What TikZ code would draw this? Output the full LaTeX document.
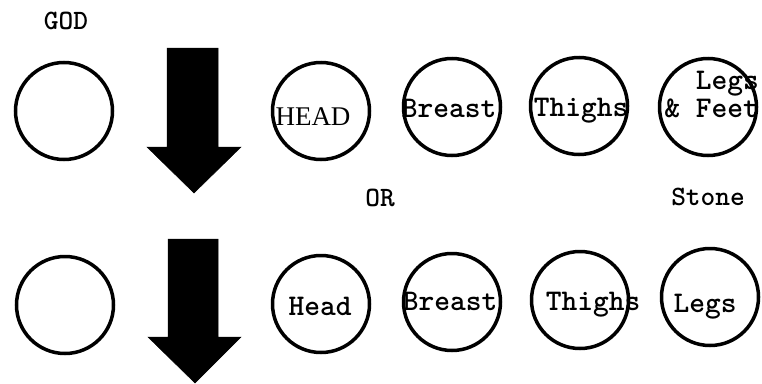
\documentclass[tikz,border=0pt]{standalone}
\usepackage{fontspec}
\newfontfamily\twfont{lmmonolt10-bold}[Extension=.otf]
\newfontfamily\headfont{Liberation Serif}
\usepackage{tikz}
\usetikzlibrary{positioning}

\begin{document}
\begin{tikzpicture}[x=1pt, y=-1pt]
          \tikzstyle{ring} = [line width=3.5pt, draw, circle, inner sep = 0pt, minimum size = 97pt]
          \tikzstyle{tw} = [inner sep = 0pt, anchor = base, font=\twfont\fontsize{30}{25}\selectfont]
          \tikzstyle{twsmall} = [inner sep = 0pt, anchor = base, font=\twfont\fontsize{28}{25}\selectfont]
          \tikzstyle{serif} = [inner sep = 0pt, anchor = base, font=\headfont\fontsize{27}{25}\selectfont]
          \tikzstyle{bigarrow} = [fill=black, draw=black, line width=0.5pt, line join=miter]
          \useasboundingbox (0,0) rectangle (762,383);

            % upper row
            \node[twsmall] (god) at (66, 29) {GOD};
            \node[ring] (g1) at (64, 111) {};
            \node[ring] (h1) at (321, 111) {};
            \node[ring] (b1) at (452, 107) {};
            \node[ring] (t1) at (579, 106) {};
            \node[ring] (l1) at (708, 107) {};

            \node[serif] (head1) at (313, 125) {HEAD};
            \node[tw] (breast1) at (449, 117) {Breast};
            \node[tw] (thighs1) at (581, 116) {Thighs};
            \node[tw, anchor = base east] (legs1) at (759, 89) {Legs};
            \node[tw, anchor = base east] (feet1) at (759, 117) {\& Feet};

            \draw[bigarrow] (167, 48) -- (218, 48) -- (218, 147) -- (241, 147)
              -- (194, 193) -- (147, 147) -- (167, 147) -- cycle;

            % middle labels
            \node[twsmall] (or) at (380, 206) {OR};
            \node[twsmall] (stone) at (708, 205) {Stone};

            % lower row
            \node[ring] (g2) at (65, 305) {};
            \node[ring] (h2) at (321, 304) {};
            \node[ring] (b2) at (452, 302) {};
            \node[ring] (t2) at (580, 300) {};
            \node[ring] (l2) at (710, 297) {};

            \node[tw] (head2) at (320, 315) {Head};
            \node[tw] (breast2) at (450, 310) {Breast};
            \node[tw] (thighs2) at (593, 310) {Thighs};
            \node[tw] (legs2) at (705, 312) {Legs};

            \draw[bigarrow] (168, 239) -- (218, 239) -- (218, 337) -- (241, 337)
              -- (195, 383) -- (148, 337) -- (168, 337) -- cycle;

            % \draw[->] (g1) to (g2);
\end{tikzpicture}
\end{document}
